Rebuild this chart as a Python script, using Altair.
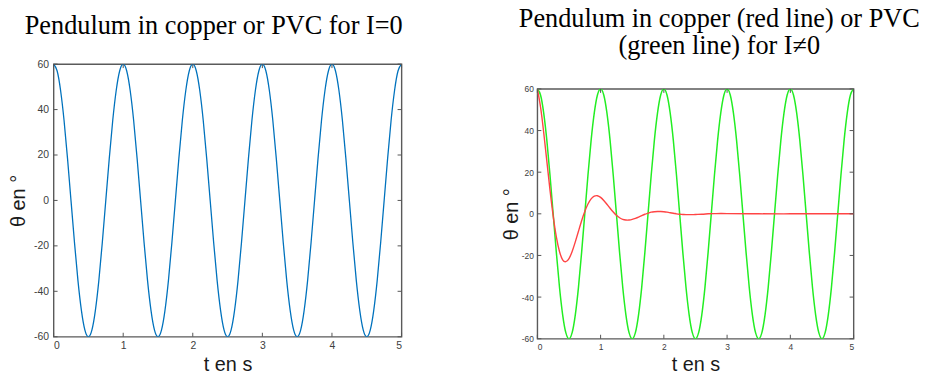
import altair as alt
import pandas as pd

# ---- data ----
t_grid = [0.0, 0.05, 0.1, 0.15, 0.2, 0.25, 0.3, 0.35, 0.4, 0.45,
          0.5, 0.55, 0.6, 0.65, 0.7, 0.75, 0.8, 0.85, 0.9, 0.95,
          1.0, 1.05, 1.1, 1.15, 1.2, 1.25, 1.3, 1.35, 1.4, 1.45,
          1.5, 1.55, 1.6, 1.65, 1.7, 1.75, 1.8, 1.85, 1.9, 1.95,
          2.0, 2.05, 2.1, 2.15, 2.2, 2.25, 2.3, 2.35, 2.4, 2.45,
          2.5, 2.55, 2.6, 2.65, 2.7, 2.75, 2.8, 2.85, 2.9, 2.95,
          3.0, 3.05, 3.1, 3.15, 3.2, 3.25, 3.3, 3.35, 3.4, 3.45,
          3.5, 3.55, 3.6, 3.65, 3.7, 3.75, 3.8, 3.85, 3.9, 3.95,
          4.0, 4.05, 4.1, 4.15, 4.2, 4.25, 4.3, 4.35, 4.4, 4.45,
          4.5, 4.55, 4.6, 4.65, 4.7, 4.75, 4.8, 4.85, 4.9, 4.95, 5.0]

# undamped pendulum (blue, left) / PVC pendulum (green, right)
theta_free = [60, 57.1, 48.5, 35.3, 18.5, 0, -18.5, -35.3, -48.5, -57.1,
              -60, -57.1, -48.5, -35.3, -18.5, 0, 18.5, 35.3, 48.5, 57.1,
              60, 57.1, 48.5, 35.3, 18.5, 0, -18.5, -35.3, -48.5, -57.1,
              -60, -57.1, -48.5, -35.3, -18.5, 0, 18.5, 35.3, 48.5, 57.1,
              60, 57.1, 48.5, 35.3, 18.5, 0, -18.5, -35.3, -48.5, -57.1,
              -60, -57.1, -48.5, -35.3, -18.5, 0, 18.5, 35.3, 48.5, 57.1,
              60, 57.1, 48.5, 35.3, 18.5, 0, -18.5, -35.3, -48.5, -57.1,
              -60, -57.1, -48.5, -35.3, -18.5, 0, 18.5, 35.3, 48.5, 57.1,
              60, 57.1, 48.5, 35.3, 18.5, 0, -18.5, -35.3, -48.5, -57.1,
              -60, -57.1, -48.5, -35.3, -18.5, 0, 18.5, 35.3, 48.5, 57.1, 60]

# copper pendulum with eddy-current braking (red, right)
t_copper = [0.0, 0.05, 0.1, 0.15, 0.2, 0.25, 0.3, 0.35, 0.4, 0.45,
            0.5, 0.55, 0.6, 0.65, 0.7, 0.75, 0.8, 0.85, 0.9, 0.95,
            1.0, 1.05, 1.1, 1.15, 1.2, 1.25, 1.3, 1.35, 1.4, 1.45,
            1.5, 1.55, 1.6, 1.65, 1.7, 1.75, 1.8, 1.85, 1.9, 1.95,
            2.0, 2.05, 2.1, 2.15, 2.2, 2.25, 2.3, 2.35, 2.4, 2.45,
            2.5, 2.6, 2.7, 2.8, 2.9, 3.0, 3.5, 4.0, 4.5, 5.0]
theta_copper = [60, 51.4, 39.2, 25.3, 11.4, -1.0, -11.1, -18.1, -22.1, -23.0,
                -21.5, -18.1, -13.5, -8.4, -3.3, 1.1, 4.7, 7.2, 8.5, 8.7,
                7.9, 6.4, 4.6, 2.7, 0.9, -0.7, -1.9, -2.7, -3.0, -3.0,
                -2.7, -2.2, -1.6, -0.9, -0.2, 0.3, 0.8, 1.0, 1.1, 1.1,
                1.0, 0.8, 0.5, 0.3, 0.0, -0.2, -0.3, -0.4, -0.4, -0.4,
                -0.3, -0.2, 0.0, 0.1, 0.15, 0.1, 0.0, 0.0, 0.0, 0.0]

x_ticks = [0, 1, 2, 3, 4, 5]
y_ticks = [-60, -40, -20, 0, 20, 40, 60]

left_title_text = "Pendulum in copper or PVC for I=0"
right_title_text = "Pendulum in copper (red line) or PVC\n(green line) for I≠0"

# ---- styling ----
LABEL_FONT = "Liberation Sans"
TITLE_FONT = "Liberation Serif"

free_df = pd.DataFrame({"t": t_grid, "theta": theta_free})
copper_df = pd.DataFrame({"t": t_copper, "theta": theta_copper})
xt_df = pd.DataFrame({"tick": x_ticks})
yt_df = pd.DataFrame({"tick": y_ticks})


def panel(series, width, height, label_size, label_pad, y_title_pad):
    xs = alt.Scale(domain=[0, 5], nice=False, zero=False)
    ys = alt.Scale(domain=[-60, 60], nice=False, zero=False)
    x_axis = alt.Axis(values=x_ticks, ticks=False, domain=False, grid=False,
                      labelExpr="toString(datum.value)", labelFontSize=label_size,
                      labelPadding=4, title="t en s", titlePadding=4)
    y_axis = alt.Axis(values=y_ticks, ticks=False, domain=False, grid=False,
                      labelExpr="toString(datum.value)", labelFontSize=label_size,
                      labelPadding=label_pad, title="θ en °", titlePadding=y_title_pad)
    layers = []
    for df, color, sw in series:
        layers.append(
            alt.Chart(df).mark_line(interpolate="natural", clip=True,
                                    color=color, strokeWidth=sw).encode(
                x=alt.X("t:Q", scale=xs, axis=x_axis),
                y=alt.Y("theta:Q", scale=ys, axis=y_axis),
            )
        )
    dy = 120 * 4.0 / height
    dx = 5 * 4.0 / width
    tick_style = dict(color="#555555", strokeWidth=1)
    bottom = alt.Chart(xt_df).mark_rule(**tick_style).encode(
        x=alt.X("tick:Q", scale=xs), y=alt.datum(-60, scale=ys), y2=alt.datum(-60 + dy))
    top = alt.Chart(xt_df).mark_rule(**tick_style).encode(
        x=alt.X("tick:Q", scale=xs), y=alt.datum(60, scale=ys), y2=alt.datum(60 - dy))
    left = alt.Chart(yt_df).mark_rule(**tick_style).encode(
        y=alt.Y("tick:Q", scale=ys), x=alt.datum(0, scale=xs), x2=alt.datum(dx))
    right = alt.Chart(yt_df).mark_rule(**tick_style).encode(
        y=alt.Y("tick:Q", scale=ys), x=alt.datum(5, scale=xs), x2=alt.datum(5 - dx))
    return alt.layer(*layers, bottom, top, left, right).properties(width=width, height=height)


def title_block(text, width, height, cx, top):
    return alt.Chart(pd.DataFrame({"label": [text]})).mark_text(
        font=TITLE_FONT, fontSize=26.5, color="black", align="center",
        baseline="top", lineBreak="\n", lineHeight=26.5,
    ).encode(
        text="label:N", x=alt.value(cx), y=alt.value(top)
    ).properties(width=width, height=height, view=alt.ViewBackground(strokeOpacity=0))


LW, LH = 351, 275
RW, RH = 319, 252

left_col = alt.vconcat(
    title_block(left_title_text, LW, 49, LW / 2 - 14, 3.6),
    panel([(free_df, "#0072BD", 1.3)], LW, LH, 10.5, 5, 5),
    spacing=0,
)
right_col = alt.vconcat(
    title_block(right_title_text, RW, 75, RW / 2 + 24, -3),
    panel([(free_df, "#22ee22", 1.5), (copper_df, "#ff4444", 1.4)], RW, RH, 8.5, 4, 0),
    spacing=0,
)

chart = alt.hconcat(left_col, right_col, spacing=98).properties(
    padding={"left": 0, "top": -3, "right": 0, "bottom": 0}
).configure_view(
    stroke="#5a5a5a", strokeWidth=1.4
).configure_axis(
    labelFont=LABEL_FONT, labelColor="#404040",
    titleFont=LABEL_FONT, titleFontSize=20, titleFontWeight="normal", titleColor="#1a1a1a"
)

chart.save("out.html", embed_options={"renderer": "svg", "actions": False})
